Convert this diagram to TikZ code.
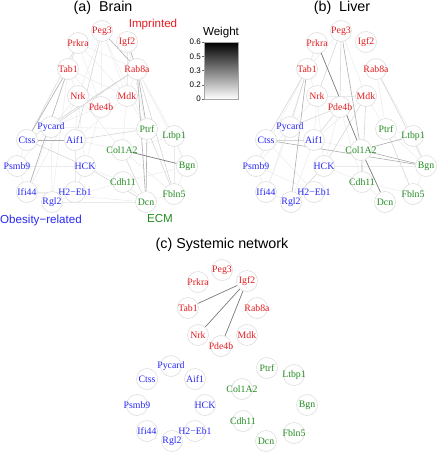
\documentclass[tikz,border=0pt]{standalone}
\usepackage{fontspec}
\setmainfont{Liberation Serif}
\newfontfamily\sansf{Liberation Sans}
\pgfdeclarelayer{bg}
\pgfsetlayers{bg,main}
\definecolor{cR}{RGB}{228,28,32}
\definecolor{cB}{RGB}{40,40,245}
\definecolor{cG}{RGB}{34,139,34}
\tikzset{
 gn/.style={circle,draw=black!13,fill=white,line width=0.6pt,minimum size=21pt,inner sep=0pt},
 lbl/.style={inner sep=0pt,font=\fontsize{9.8}{10}\selectfont},
 ttl/.style={font=\sansf\fontsize{14.3}{16}\selectfont},
 grp/.style={font=\sansf\fontsize{11.6}{13}\selectfont},
 tck/.style={font=\sansf\fontsize{8}{9}\selectfont,anchor=east,inner sep=0pt},
 e1/.style={draw=black!8,line width=0.5pt},
 e2/.style={draw=black!17,line width=0.55pt},
 e3/.style={draw=black!32,line width=0.6pt},
 e4/.style={draw=black!52,line width=0.7pt},
}
\newcommand\mkpanel[3]{%
 \begin{scope}[shift={(#2,#3)}]
 \foreach \n/\x/\y/\col/\lab in {
  Peg3/102/31/cR/Peg3, Igf2/127/42/cR/Igf2, Prkra/78/43/cR/Prkra, Tab1/68/69/cR/Tab1,
  Rab8a/137/69/cR/Rab8a, Nrk/78/96/cR/Nrk, Mdk/127/96/cR/Mdk, Pde4b/101/107/cR/Pde4b,
  Pycard/51/127/cB/Pycard, Ctss/27/140/cB/Ctss, Aif1/75/140/cB/Aif1, Psmb9/17/166/cB/Psmb9,
  HCK/85/166/cB/HCK, Ifi44/27/192/cB/Ifi44, H2Eb1/75/192/cB/H2−Eb1, Rgl2/52/202/cB/Rgl2,
  Ptrf/147/129/cG/Ptrf, Ltbp1/174/136/cG/Ltbp1, Col1A2/122/150/cG/Col1A2, Bgn/187/166/cG/Bgn,
  Cdh11/123/182/cG/Cdh11, Fbln5/174/194/cG/Fbln5, Dcn/146/202/cG/Dcn}{
   \node[gn] (#1\n) at (\x,\y) {};
   \node[lbl,text=\col] (#1\n-t) at (\x,\y) {\lab};
 }
 \end{scope}}
\newcommand\mkedges[3]{%
 \begin{pgfonlayer}{bg}
 \foreach \a/\b in {#3} \draw[#2] (#1\a) -- (#1\b);
 \end{pgfonlayer}}
\begin{document}
\begin{tikzpicture}[x=1pt,y=-1pt]
\useasboundingbox (0,0) rectangle (437,453);
% panels
\mkpanel{a}{0}{0}
\mkpanel{b}{239}{0}
\mkpanel{c}{120}{239}
% titles and group labels
\node[ttl] (ta) at (103,8) {(a)\ \ Brain};
\node[ttl] (tb) at (342,8) {(b)\ \ Liver};
\node[ttl] (tc) at (222,245) {(c) Systemic network};
\node[grp,text=cR] (gimp) at (153,24) {Imprinted};
\node[grp,text=cB] (gob) at (41,220) {Obesity−related};
\node[grp,text=cG] (gecm) at (160,219) {ECM};
% colour bar
\node[grp] (wt) at (221,32) {Weight};
\shade[top color=black,bottom color=white] (204,42) rectangle (238,99);
\draw[black!35,line width=0.5pt] (204,42) rectangle (238,99);
\foreach \v/\yy [count=\i] in {0.6/42,0.5/56.25,0.3/70.5,0.2/84.75,0/99}{
  \draw[black!60,line width=0.5pt] (201.5,\yy) -- (204,\yy);
  \node[tck] (tk\i) at (201,\yy) {\v};
}
% brain edges
\mkedges{a}{e1}{Prkra/Pde4b,Prkra/Mdk,Prkra/Rab8a,Peg3/Nrk,Peg3/Mdk,Peg3/Ptrf,Tab1/Rgl2,Nrk/Ifi44,Nrk/Aif1,Nrk/Col1A2,
  Pde4b/Pycard,Mdk/Ptrf,Mdk/Col1A2,Mdk/Aif1,Pde4b/HCK,Pycard/Rgl2,Pycard/Ifi44,Aif1/H2Eb1,HCK/H2Eb1,HCK/Cdh11,
  Cdh11/Bgn,Cdh11/Dcn,Col1A2/Fbln5,Col1A2/Ltbp1,Ltbp1/Bgn,Ltbp1/Fbln5,Bgn/Fbln5,Dcn/Fbln5,Ifi44/Dcn,Rgl2/Cdh11,
  Psmb9/Ifi44,Tab1/Nrk,Igf2/Mdk,Igf2/Ptrf,Rab8a/Mdk,Rab8a/Ltbp1,Rab8a/Bgn,Ctss/Psmb9,Aif1/Col1A2,Ifi44/H2Eb1,
  Tab1/Pde4b,Nrk/HCK,Psmb9/HCK,Rgl2/Dcn,Pycard/Ptrf,Peg3/Pde4b,Tab1/Mdk,Nrk/Psmb9}
\mkedges{a}{e2}{Rab8a/Fbln5,Rab8a/Pycard,Rab8a/Ctss,Aif1/Ptrf,Ctss/HCK,Ptrf/Fbln5,HCK/Dcn,Peg3/Aif1,Prkra/Tab1,Prkra/Ctss,Col1A2/Dcn}
\mkedges{a}{e3}{Igf2/Rab8a,Peg3/Rab8a,Rab8a/Dcn,Rab8a/Ptrf,Tab1/Ctss,Tab1/Ifi44,Ctss/Aif1,Ptrf/Dcn}
\mkedges{a}{e4}{Col1A2/Bgn}
% liver edges
\mkedges{b}{e1}{Tab1/Psmb9,Prkra/Tab1,Peg3/Tab1,Nrk/Psmb9,Nrk/HCK,Mdk/Aif1,Pde4b/HCK,Pde4b/Cdh11,Rab8a/Ptrf,Rab8a/Ltbp1,
  Ctss/Psmb9,Ctss/H2Eb1,Psmb9/H2Eb1,Psmb9/Ifi44,Ifi44/Rgl2,Aif1/Rgl2,HCK/Cdh11,HCK/Bgn,Cdh11/Fbln5,Cdh11/Dcn,
  Ptrf/Ltbp1,Ltbp1/Bgn,Bgn/Fbln5,Ptrf/Bgn,Ifi44/Pycard,Aif1/Col1A2,Nrk/Mdk,Tab1/Nrk,Mdk/Ptrf,Nrk/Aif1,Prkra/Ifi44,Peg3/Mdk}
\mkedges{b}{e2}{Ptrf/Fbln5,Pde4b/Pycard,Peg3/Pde4b,Peg3/Nrk,Mdk/Cdh11,Rab8a/Bgn,Tab1/Ctss,Tab1/Pycard,Pde4b/Aif1,HCK/Rgl2,
  Ctss/Aif1,Col1A2/Cdh11,Mdk/HCK}
\mkedges{b}{e3}{Peg3/Col1A2,Tab1/Rgl2,Ctss/Bgn,Col1A2/Bgn,Col1A2/Ltbp1}
\mkedges{b}{e4}{Prkra/Col1A2,Col1A2/Dcn}
% systemic edges
\mkedges{c}{e4}{Igf2/Tab1,Igf2/Nrk,Igf2/Pde4b}
\end{tikzpicture}
\end{document}
